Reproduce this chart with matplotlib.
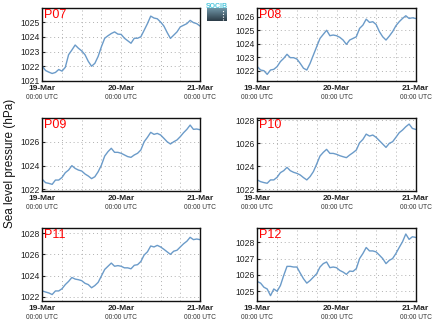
import numpy as np
import matplotlib
matplotlib.use("Agg")
import matplotlib.pyplot as plt

plt.rcParams['font.family'] = ['Liberation Sans', 'DejaVu Sans']

# hourly sea level pressure (hPa), 19-Mar 00:00 to 21-Mar 00:00 UTC
hours = np.arange(49)

p07 = [1022.00, 1021.71, 1021.60, 1021.51, 1021.58, 1021.78, 1021.67, 1021.93,
       1022.78, 1023.10, 1023.44, 1023.22, 1023.04, 1022.78, 1022.33, 1022.00,
       1022.20, 1022.67, 1023.33, 1023.90, 1024.07, 1024.22, 1024.33, 1024.18,
       1024.16, 1023.90, 1023.73, 1023.56, 1023.90, 1023.90, 1024.00, 1024.44,
       1024.89, 1025.40, 1025.27, 1025.22, 1025.00, 1024.73, 1024.29, 1023.89,
       1024.11, 1024.33, 1024.67, 1024.78, 1024.89, 1025.11, 1024.96, 1024.89,
       1024.73]
p08 = [1022.32, 1022.07, 1022.02, 1021.75, 1022.07, 1022.12, 1022.32, 1022.69,
       1022.93, 1023.23, 1022.98, 1022.98, 1022.88, 1022.56, 1022.20, 1022.07,
       1022.56, 1023.18, 1023.79, 1024.40, 1024.70, 1025.00, 1024.60, 1024.65,
       1024.60, 1024.48, 1024.28, 1023.96, 1024.28, 1024.40, 1024.52, 1025.14,
       1025.38, 1025.82, 1025.58, 1025.63, 1025.43, 1024.90, 1024.52, 1024.28,
       1024.57, 1024.90, 1025.33, 1025.63, 1025.87, 1026.07, 1025.87, 1025.92,
       1025.87]
p09 = [1022.84, 1022.56, 1022.50, 1022.42, 1022.78, 1022.78, 1023.00, 1023.40,
       1023.62, 1023.99, 1023.76, 1023.62, 1023.54, 1023.29, 1023.12, 1022.90,
       1023.06, 1023.48, 1024.04, 1024.80, 1025.17, 1025.45, 1025.11, 1025.11,
       1025.03, 1024.89, 1024.75, 1024.69, 1024.89, 1025.03, 1025.31, 1026.00,
       1026.37, 1026.79, 1026.62, 1026.70, 1026.57, 1026.29, 1026.00, 1025.81,
       1026.00, 1026.15, 1026.43, 1026.76, 1027.04, 1027.40, 1027.04, 1027.07,
       1027.01]
p10 = [1022.81, 1022.66, 1022.58, 1022.52, 1022.81, 1022.81, 1023.04, 1023.44,
       1023.61, 1023.90, 1023.61, 1023.47, 1023.38, 1023.24, 1023.01, 1022.81,
       1023.10, 1023.53, 1024.19, 1024.88, 1025.20, 1025.46, 1025.11, 1025.11,
       1025.03, 1024.91, 1024.82, 1024.74, 1024.97, 1025.17, 1025.40, 1026.03,
       1026.32, 1026.78, 1026.61, 1026.70, 1026.50, 1026.21, 1025.92, 1025.63,
       1025.98, 1026.12, 1026.50, 1026.90, 1027.13, 1027.42, 1027.65, 1027.27,
       1027.19]
p11 = [1022.55, 1022.45, 1022.36, 1022.21, 1022.55, 1022.55, 1022.76, 1023.15,
       1023.45, 1023.82, 1023.67, 1023.61, 1023.52, 1023.27, 1023.15, 1022.85,
       1023.06, 1023.36, 1023.97, 1024.58, 1024.88, 1025.18, 1024.88, 1024.94,
       1024.88, 1024.73, 1024.73, 1024.64, 1024.97, 1025.03, 1025.33, 1025.94,
       1026.24, 1026.79, 1026.70, 1026.85, 1026.70, 1026.48, 1026.24, 1026.00,
       1026.30, 1026.39, 1026.70, 1027.00, 1027.24, 1027.61, 1027.39, 1027.45,
       1027.39]
p12 = [1025.60, 1025.50, 1025.25, 1025.14, 1024.73, 1025.14, 1025.00, 1025.35,
       1025.97, 1026.53, 1026.53, 1026.49, 1026.49, 1026.12, 1025.77, 1025.50,
       1025.66, 1025.87, 1026.08, 1026.49, 1026.70, 1026.80, 1026.45, 1026.49,
       1026.45, 1026.28, 1026.18, 1026.04, 1026.24, 1026.22, 1026.39, 1027.01,
       1027.32, 1027.69, 1027.48, 1027.48, 1027.42, 1027.22, 1027.01, 1026.70,
       1026.90, 1027.01, 1027.32, 1027.69, 1028.04, 1028.52, 1028.19, 1028.35,
       1028.31]

stations = ['P07', 'P08', 'P09', 'P10', 'P11', 'P12']
series = [p07, p08, p09, p10, p11, p12]
ylims = [(1021.0, 1025.93), (1021.26, 1026.62), (1021.86, 1027.97),
         (1021.85, 1028.15), (1021.63, 1028.46), (1024.42, 1028.87)]
yticks = [[1021, 1022, 1023, 1024, 1025],
          [1022, 1023, 1024, 1025, 1026],
          [1022, 1024, 1026],
          [1022, 1024, 1026, 1028],
          [1022, 1024, 1026, 1028],
          [1025, 1026, 1027, 1028]]
date_ticks = [0, 24, 48]
date_labels = ['19-Mar', '20-Mar', '21-Mar']
time_label = '00:00 UTC'

W, H = 434, 327
fig = plt.figure(figsize=(W / 100, H / 100), dpi=100)

# panel boxes in pixels: (left, right) per column, (top, bottom) per row
col_x = [(42.3, 200.0), (257.3, 415.7)]
row_y = [(8.3, 81.0), (118.3, 191.0), (228.3, 300.7)]

line_color = '#6b9bc9'
grid_color = '#b0b0b0'

for i, (name, vals) in enumerate(zip(stations, series)):
    r, c = divmod(i, 2)
    x0, x1 = col_x[c]
    y0, y1 = row_y[r]
    ax = fig.add_axes([x0 / W, 1 - y1 / H, (x1 - x0) / W, (y1 - y0) / H])
    ax.plot(hours, vals, color=line_color, lw=1.0)
    ax.set_xlim(0, 48)
    ax.set_ylim(*ylims[i])
    ax.set_yticks(yticks[i])
    ax.set_xticks(date_ticks)
    ax.set_xticklabels(date_labels, fontweight='bold', fontsize=6,
                       color='#222222')
    ax.set_xticks(np.arange(0, 49, 6), minor=True)
    ax.tick_params(axis='y', labelsize=6.2, colors='#222222', length=2,
                   direction='in', pad=2)
    ax.tick_params(axis='x', which='both', length=0, pad=3)
    ax.grid(True, which='both', axis='x', color=grid_color, ls=(0, (1, 3)),
            lw=0.7)
    ax.grid(True, which='major', axis='y', color=grid_color, ls=(0, (1, 3)),
            lw=0.7)
    for sp in ax.spines.values():
        sp.set_linewidth(1.0)
        sp.set_color('#111111')
    for t in date_ticks:
        ax.annotate(time_label, xy=(t, 0), xycoords=('data', 'axes fraction'),
                    xytext=(0, -12.2), textcoords='offset points',
                    ha='center', va='center', fontsize=4.8, color='#333333')
    ax.text(0.012, 0.985, name, transform=ax.transAxes, ha='left', va='top',
            fontsize=9, color='#ff0000')

fig.text(10 / W, 1 - 163 / H, 'Sea level pressure (hPa)', rotation=90,
         ha='center', va='center', fontsize=8.5, color='#111111')

# SOCIB badge
logo = fig.add_axes([207 / W, 1 - 21 / H, 20 / W, 17 / H])
logo.set_xlim(0, 1)
logo.set_ylim(0, 1)
logo.axis('off')
grad = np.linspace(0, 1, 32).reshape(-1, 1)
logo.imshow(grad, extent=(0, 1, 0, 0.72), aspect='auto',
            cmap=matplotlib.colors.LinearSegmentedColormap.from_list(
                'badge', ['#6f95a6', '#2c3c48']))
logo.plot([0.82, 0.82], [0.08, 0.62], color='white', lw=0.8, ls=(0, (1, 1.5)))
logo.text(0.5, 0.86, 'SOCIB', ha='center', va='center', fontsize=5,
          color='#4fc6dc', fontweight='bold')

fig.savefig('out.png', dpi=100, facecolor='white')
